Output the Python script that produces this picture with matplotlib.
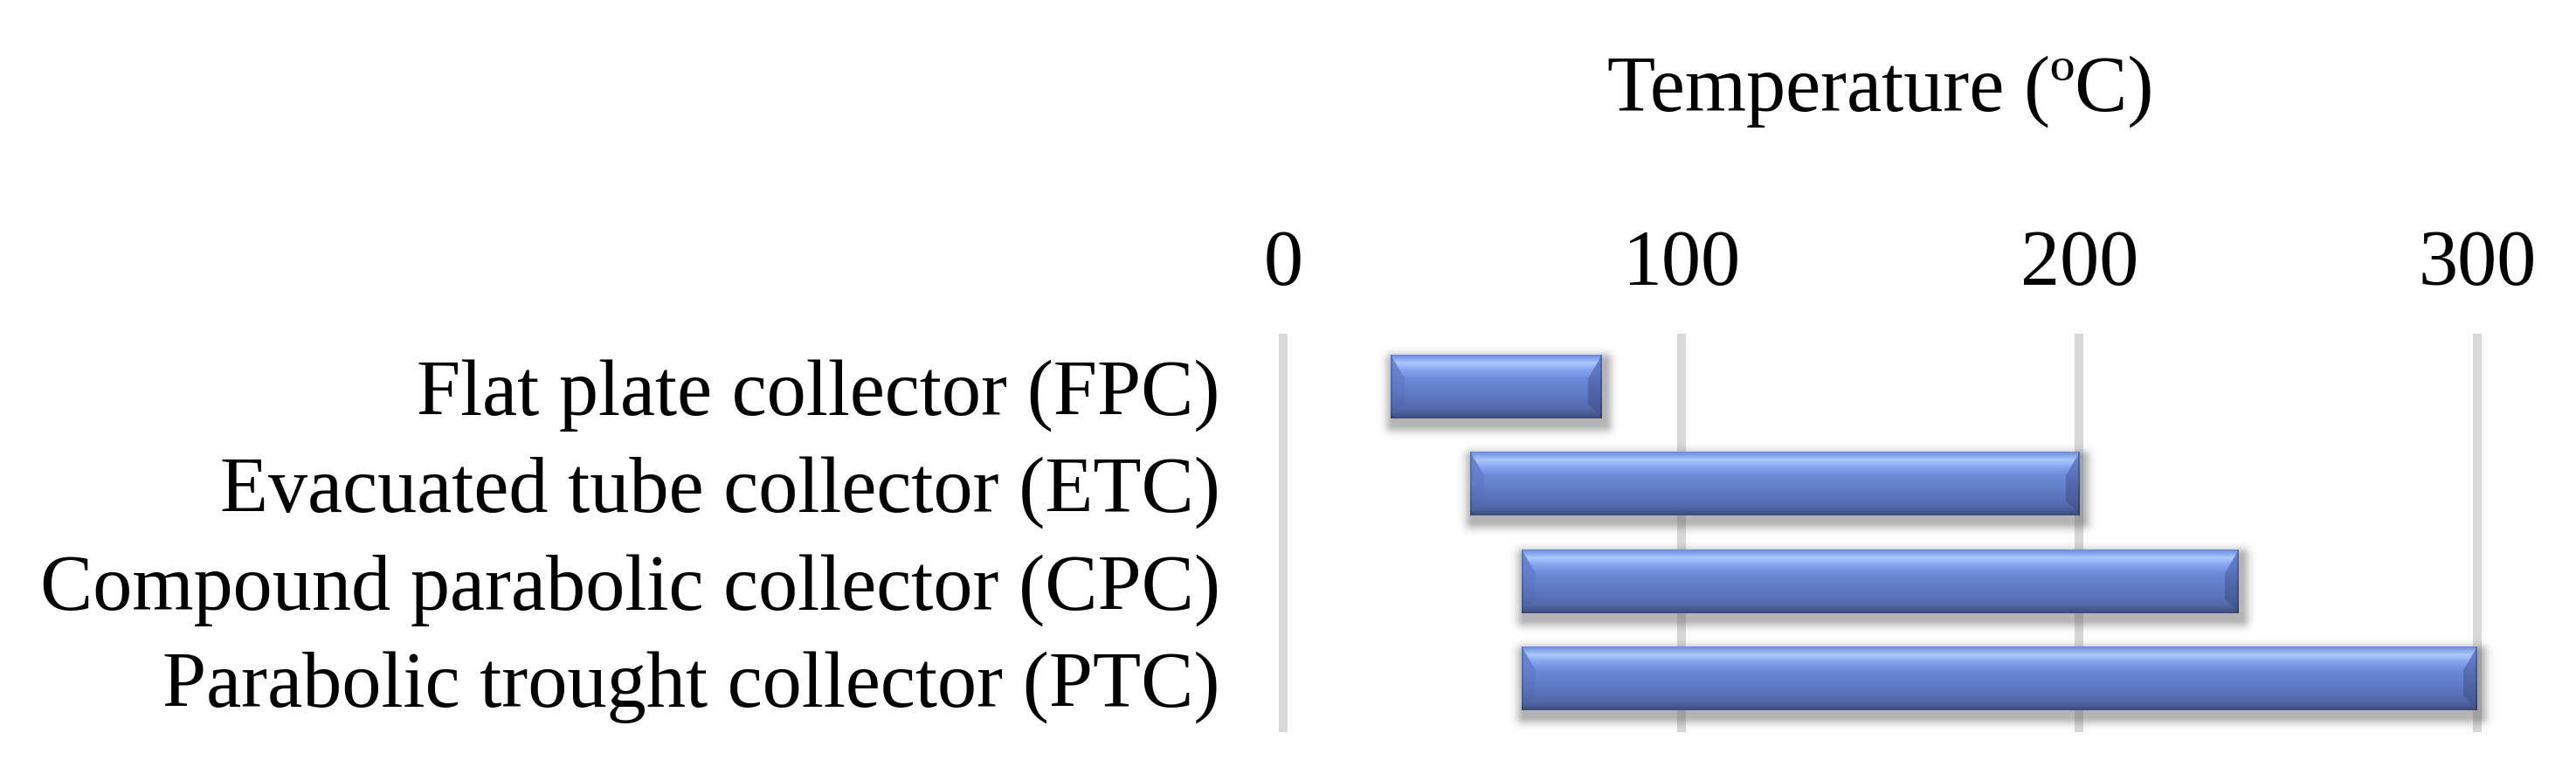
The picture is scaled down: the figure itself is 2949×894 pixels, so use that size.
import numpy as np
import matplotlib
matplotlib.use("Agg")
import matplotlib.pyplot as plt
from matplotlib.colors import to_rgb

plt.rcParams['font.family'] = ['Liberation Serif', 'DejaVu Serif']

categories = ["Flat plate collector (FPC)",
              "Evacuated tube collector (ETC)",
              "Compound parabolic collector (CPC)",
              "Parabolic trought collector (PTC)"]
t_min = [27, 47, 60, 60]
t_max = [80, 200, 240, 300]
x_ticks = [0, 100, 200, 300]
x_label = "Temperature (ºC)"

bar_h = 0.65


def grad(stops, t):
    # piecewise linear colour ramp, t in 0..1
    pos = [s[0] for s in stops]
    cols = np.array([to_rgb(s[1]) for s in stops])
    return np.stack([np.interp(t, pos, cols[:, k]) for k in range(3)], axis=-1)


def bevel_bar(w, h, b=16):
    y = (np.arange(h) + 0.5)[:, None] * np.ones((1, w))
    x = np.ones((h, 1)) * (np.arange(w) + 0.5)[None, :]
    t = y / h
    base = grad([(0.0, '#6a88d8'), (0.04, '#7c9cec'), (0.13, '#abc9fb'),
                 (0.24, '#86a4ef'), (0.38, '#6b89d7'), (0.62, '#5f7bc6'),
                 (0.86, '#5368a8'), (0.93, '#485b94'), (1.0, '#3a4a78')], t)
    left = grad([(0.0, '#6a88d8'), (0.5, '#5f7cc8'), (0.9, '#4f66a6'), (1.0, '#3a4a78')], t)
    right = grad([(0.0, '#6a88d8'), (0.5, '#5369ac'), (0.9, '#44588f'), (1.0, '#3a4a78')], t)
    img = base.copy()
    dl, dr = x, w - x
    dt, db = y, h - y
    mleft = (dl < b) & (dl < dt * 0.6) & (dl < db)
    mright = (dr < b) & (dr < dt * 0.6) & (dr < db)
    img[mleft] = left[mleft]
    img[mright] = right[mright]
    # thin dark outline on the sides
    img[:, :2] = img[:, :2] * 0.85
    img[:, -2:] = img[:, -2:] * 0.8
    return img


def shadow(w, h, m, dx=3, dy=7, blur=9.0):
    H, W = h + 2 * m, w + 2 * m
    y = (np.arange(H) + 0.5)[:, None]
    x = (np.arange(W) + 0.5)[None, :]
    cx, cy = W / 2 + dx, H / 2 + dy
    ex = np.maximum(0, np.abs(x - cx) - w / 2)
    ey = np.maximum(0, np.abs(y - cy) - h / 2)
    d = np.hypot(ex, ey)
    a = 0.45 * np.exp(-(d / blur) ** 2)
    out = np.zeros((H, W, 4))
    out[..., :3] = 0.35
    out[..., 3] = a
    return out


fig = plt.figure(figsize=(29.49, 8.94), dpi=100)
ax = fig.add_axes([1469 / 2949, 1 - 833 / 894, (2836 - 1469) / 2949, (833 - 387) / 894])
ax.set_xlim(0, 300)
ax.set_ylim(len(categories) - 0.5, -0.5)

for xt in x_ticks:
    ax.axvline(xt, color='#d9d9d9', lw=7.2, zorder=1, clip_on=False)

for i, (lo, hi) in enumerate(zip(t_min, t_max)):
    x0, y0 = ax.transData.transform((lo, i + bar_h / 2))
    x1, y1 = ax.transData.transform((hi, i - bar_h / 2))
    w, h = int(round(x1 - x0)), int(round(y1 - y0))
    ppx = (x1 - x0) / (hi - lo)
    ppy = (y1 - y0) / bar_h
    m = 30
    sh = shadow(w, h, m)
    ax.imshow(sh, extent=(lo - m / ppx, hi + m / ppx, i + bar_h / 2 + m / ppy, i - bar_h / 2 - m / ppy),
              aspect='auto', interpolation='bilinear', zorder=2, clip_on=False)
    ax.imshow(bevel_bar(w, h), extent=(lo, hi, i + bar_h / 2, i - bar_h / 2),
              aspect='auto', interpolation='bilinear', zorder=3)

ax.set_xlim(0, 300)
ax.set_ylim(len(categories) - 0.5, -0.5)
ax.set_xticks(x_ticks)
ax.set_yticks(range(len(categories)))
ax.set_yticklabels(categories)
ax.xaxis.tick_top()
ax.tick_params(axis='x', length=0, pad=30, labelsize=65)
ax.tick_params(axis='y', length=0, pad=52, labelsize=65)
ax.set_xlabel(x_label, fontsize=65)
ax.xaxis.set_label_position('top')
ax.xaxis.set_label_coords(0.5, 1.585)
for s in ax.spines.values():
    s.set_visible(False)
ax.patch.set_alpha(0)

fig.savefig("out.png", dpi=100, facecolor='white')
